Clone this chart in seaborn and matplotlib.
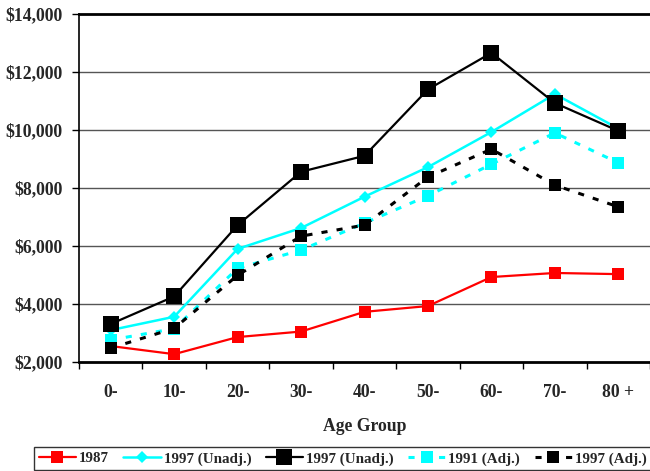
import matplotlib
matplotlib.use("Agg")
import matplotlib.pyplot as plt
import seaborn as sns
import numpy as np
from matplotlib.ticker import FuncFormatter, FixedLocator

sns.set_theme(style="white")
plt.rcParams['font.family'] = ['Liberation Serif', 'DejaVu Serif']
plt.rcParams['font.weight'] = 'bold'

# data
age_groups = ['0-', '10-', '20-', '30-', '40-', '50-', '60-', '70-', '80 +']
v1987 = [2550, 2270, 2860, 3050, 3730, 3930, 4930, 5070, 5030]
v1997_unadj_a = [3100, 3560, 5900, 6620, 7700, 8720, 9930, 11240, 10050]
v1997_unadj_b = [3310, 4260, 6720, 8560, 9110, 11400, 12660, 10930, 9970]
v1991_adj = [2760, 3150, 5230, 5860, 6790, 7730, 8820, 9900, 8870]
v1997_adj = [2480, 3160, 4990, 6340, 6720, 8380, 9340, 8100, 7350]

fig = plt.figure(figsize=(6.5, 4.71), dpi=100)
ax = fig.add_axes([79/650, 109/471, 1 - 79/650, 348/471])

x = np.arange(len(age_groups))
sns.lineplot(x=x, y=v1987, ax=ax, color='#ff0000', lw=1.6, marker='s', markersize=9,
             markeredgewidth=0, label='1987')
sns.lineplot(x=x, y=v1997_unadj_a, ax=ax, color='#00ffff', lw=1.8, marker='D', markersize=6,
             markeredgewidth=0, label='1997 (Unadj.)')
sns.lineplot(x=x, y=v1997_unadj_b, ax=ax, color='black', lw=1.6, marker='s', markersize=11,
             markeredgewidth=0, label='1997 (Unadj.)')
sns.lineplot(x=x, y=v1991_adj, ax=ax, color='#00ffff', lw=2.2, marker='s', markersize=9,
             markeredgewidth=0, label='1991 (Adj.)')
sns.lineplot(x=x, y=v1997_adj, ax=ax, color='black', lw=2.2, marker='s', markersize=8.5,
             markeredgewidth=0, label='1997 (Adj.)')
ax.lines[3].set_linestyle((0, (2, 3)))
ax.lines[4].set_linestyle((0, (2, 3)))

ax.set_xlim(-0.5, 8.5)
ax.set_ylim(2000, 14000)
ax.set_yticks(range(2000, 14001, 2000))
ax.yaxis.set_major_formatter(FuncFormatter(lambda v, p: f"${int(v):,}"))
ax.set_xticks(x)
ax.set_xticklabels(age_groups)
ax.xaxis.set_minor_locator(FixedLocator(np.arange(-0.5, 9, 1)))
ax.tick_params(axis='x', which='major', length=0, pad=16, labelsize=12.7)
ax.tick_params(axis='x', which='minor', length=5, width=1, color='black', direction='out', bottom=True)
ax.tick_params(axis='y', length=5, width=1, color='black', direction='out', left=True, labelsize=12.7, pad=7)

for gy in range(4000, 13000, 2000):
    ax.axhline(gy, color='#555555', lw=1, zorder=0)

ax.spines['right'].set_visible(False)
ax.spines['top'].set_color('black')
ax.spines['top'].set_linewidth(2)
ax.spines['bottom'].set_color('black')
ax.spines['bottom'].set_linewidth(2)
ax.spines['left'].set_color('black')
ax.spines['left'].set_linewidth(1.2)

ax.set_xlabel('Age Group', fontsize=12.7, fontweight='bold', labelpad=12)
ax.set_ylabel('')

leg = ax.legend(loc='lower left', bbox_to_anchor=(34/650, 1/471), bbox_transform=fig.transFigure,
                ncol=5, frameon=True, fontsize=10.8, handlelength=2.5, handletextpad=0.2,
                columnspacing=0.95, borderpad=0.3, borderaxespad=0, fancybox=False)
leg.get_frame().set_edgecolor('black')
leg.get_frame().set_linewidth(1)

fig.savefig('out.png', dpi=100)
